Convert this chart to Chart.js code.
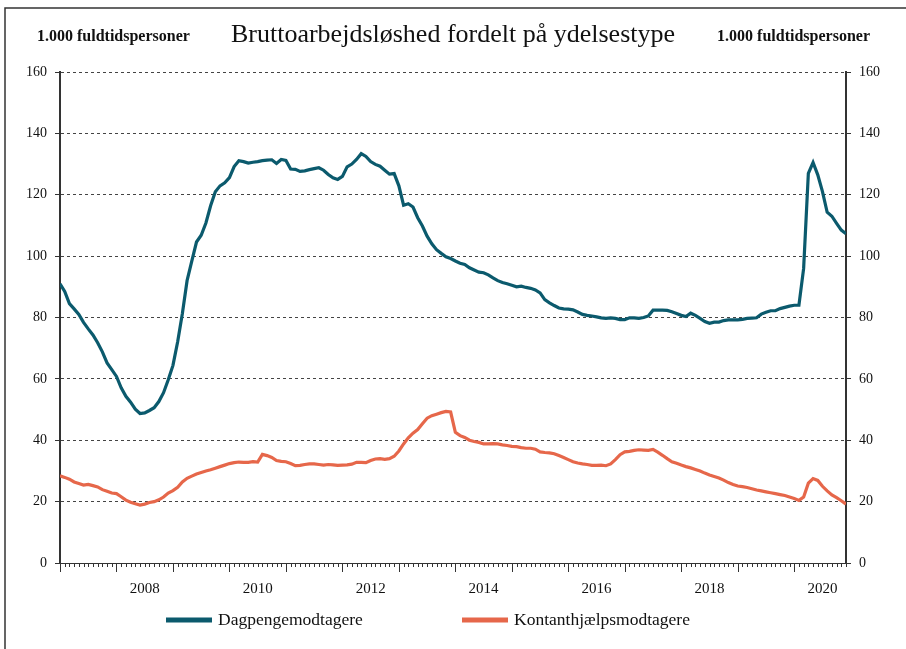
<!DOCTYPE html>
<html>
<head>
<meta charset="utf-8">
<script src="https://cdn.jsdelivr.net/npm/chart.js@4.4.1/dist/chart.umd.min.js"></script>
<style>
  html, body { margin: 0; padding: 0; background: #fff; }
  canvas { display: block; }
</style>
</head>
<body>
<canvas id="chart" width="906" height="649"></canvas>
<script>
// Bruttoarbejdsløshed fordelt på ydelsestype, månedlige tal 2007-2020

const startYear = 2007;
const months = Array.from({ length: 168 }, (_, i) =>
  `${startYear + Math.floor(i / 12)}-${String(i % 12 + 1).padStart(2, '0')}`);

const yearLabels = ['2008', '2010', '2012', '2014', '2016', '2018', '2020'];
const yTicks = [0, 20, 40, 60, 80, 100, 120, 140, 160];

const seriesNames = ['Dagpengemodtagere', 'Kontanthjælpsmodtagere'];
const unitLabel = '1.000 fuldtidspersoner';
const titleText = 'Bruttoarbejdsløshed fordelt på ydelsestype';

// 1.000 fuldtidspersoner, jan 2007 - dec 2020
const dagpenge = [
  91.0, 88.5, 84.5, 82.8, 81.0, 78.4, 76.3, 74.3, 71.8, 68.8, 65.2, 63.0,
  60.8, 57.1, 54.3, 52.4, 50.1, 48.7, 48.9, 49.7, 50.6, 52.6, 55.5, 59.7,
  64.4, 72.1, 81.3, 92.0, 98.4, 104.6, 106.8, 110.8, 116.4, 121.0, 122.9, 123.9,
  125.6, 129.2, 131.1, 130.8, 130.3, 130.6, 130.8, 131.1, 131.3, 131.4, 130.2, 131.5,
  131.2, 128.4, 128.3, 127.6, 127.8, 128.2, 128.5, 128.8, 128.0, 126.6, 125.5, 125.0,
  126.0, 129.1, 130.0, 131.5, 133.4, 132.5, 130.8, 129.9, 129.3, 128.0, 126.7, 126.9,
  122.9, 116.6, 117.1, 116.0, 112.5, 109.8, 106.5, 104.0, 102.1, 100.9, 99.8, 99.2,
  98.4, 97.7, 97.3, 96.2, 95.5, 94.8, 94.6, 93.9, 92.9, 92.0, 91.4, 91.0,
  90.5, 90.0, 90.2, 89.8, 89.5, 89.0, 88.0, 85.8, 84.8, 83.9, 83.1, 82.8,
  82.7, 82.5, 81.8, 81.0, 80.7, 80.5, 80.2, 79.9, 79.7, 79.9, 79.7, 79.3,
  79.3, 79.9, 79.9, 79.7, 80.0, 80.5, 82.4, 82.4, 82.4, 82.3, 81.9, 81.3,
  80.7, 80.3, 81.4, 80.7, 79.7, 78.7, 78.1, 78.5, 78.5, 79.0, 79.2, 79.2,
  79.2, 79.4, 79.7, 79.8, 79.9, 81.1, 81.7, 82.2, 82.2, 82.9, 83.3, 83.7,
  84.0, 84.0, 96.0, 127.0, 130.5, 126.5, 121.0, 114.3, 113.0, 110.7, 108.5, 107.3
];

const kontanthjaelp = [
  28.4, 27.9, 27.3, 26.4, 25.9, 25.4, 25.6, 25.2, 24.8, 23.9, 23.4, 22.8,
  22.6, 21.6, 20.5, 19.8, 19.3, 18.9, 19.2, 19.7, 20.0, 20.6, 21.5, 22.8,
  23.6, 24.7, 26.4, 27.6, 28.3, 29.0, 29.5, 30.0, 30.4, 30.9, 31.4, 31.9,
  32.4, 32.7, 32.9, 32.8, 32.8, 33.0, 32.9, 35.4, 35.0, 34.4, 33.4, 33.1,
  33.0, 32.4, 31.7, 31.8, 32.1, 32.3, 32.3, 32.1, 31.9, 32.1, 32.0, 31.8,
  31.9, 32.0, 32.2, 32.8, 32.8, 32.7, 33.4, 33.9, 34.0, 33.8, 34.0, 34.8,
  36.5, 38.8, 40.8, 42.3, 43.5, 45.4, 47.2, 48.0, 48.5, 49.0, 49.4, 49.2,
  42.6, 41.5, 40.9, 40.0, 39.6, 39.3, 38.8, 38.8, 38.9, 38.8, 38.5, 38.3,
  38.0, 37.9, 37.6, 37.4, 37.4, 37.1, 36.2, 36.0, 35.9, 35.6, 35.0, 34.4,
  33.7, 33.0, 32.6, 32.3, 32.1, 31.8, 31.8, 31.9, 31.7, 32.3, 33.7, 35.3,
  36.2, 36.4, 36.7, 36.9, 36.8, 36.7, 37.0, 36.1, 35.1, 34.0, 33.0, 32.5,
  31.9, 31.4, 31.0, 30.5, 30.0, 29.3, 28.7, 28.2, 27.7, 27.0, 26.2, 25.6,
  25.1, 24.9, 24.6, 24.2, 23.8, 23.5, 23.2, 22.9, 22.6, 22.3, 22.0, 21.5,
  21.0, 20.4, 21.5, 26.0, 27.5, 26.9, 25.0, 23.5, 22.2, 21.3, 20.3, 19.2
];

const colors = ['#0b5a6d', '#e6674a'];
const serif = '"Liberation Serif", "DejaVu Serif", serif';

// titel, enhedstekster og ramme
const headerPlugin = {
  id: 'header',
  afterDraw(chart) {
    const { ctx, chartArea } = chart;
    ctx.save();
    ctx.strokeStyle = '#333';
    ctx.lineWidth = 1.5;
    ctx.beginPath();
    ctx.moveTo(5, chart.height);
    ctx.lineTo(5, 8);
    ctx.lineTo(chart.width, 8);
    ctx.stroke();

    ctx.fillStyle = '#111';
    ctx.textBaseline = 'middle';
    ctx.textAlign = 'center';
    ctx.font = `26px ${serif}`;
    ctx.fillText(titleText, (chartArea.left + chartArea.right) / 2, 35);

    ctx.font = `bold 16px ${serif}`;
    ctx.textAlign = 'left';
    ctx.fillText(unitLabel, 37, 37);
    ctx.textAlign = 'right';
    ctx.fillText(unitLabel, 870, 37);
    ctx.restore();
  }
};

// måneds- og årsstreger på x-aksen
const monthTicksPlugin = {
  id: 'monthTicks',
  afterDraw(chart) {
    const { ctx, chartArea, scales } = chart;
    ctx.save();
    ctx.strokeStyle = '#333';
    ctx.lineWidth = 1;
    ctx.beginPath();
    months.forEach((m, i) => {
      const x = Math.round(scales.x.getPixelForValue(i)) + 0.5;
      const len = i % 12 === 0 ? 9 : 4;
      ctx.moveTo(x, chartArea.bottom);
      ctx.lineTo(x, chartArea.bottom + len);
    });
    ctx.stroke();
    ctx.restore();
  }
};

// forklaring under grafen
const legendPlugin = {
  id: 'customLegend',
  afterDraw(chart) {
    const { ctx } = chart;
    const xs = [166, 462];
    const y = 620;
    ctx.save();
    ctx.font = `17.5px ${serif}`;
    ctx.textBaseline = 'middle';
    ctx.textAlign = 'left';
    chart.data.datasets.forEach((ds, k) => {
      ctx.strokeStyle = ds.borderColor;
      ctx.lineWidth = 5;
      ctx.beginPath();
      ctx.moveTo(xs[k], y);
      ctx.lineTo(xs[k] + 46, y);
      ctx.stroke();
      ctx.fillStyle = '#111';
      ctx.fillText(ds.label, xs[k] + 52, y);
    });
    ctx.restore();
  }
};

const toPoints = arr => arr.map((v, i) => ({ x: i, y: v }));

new Chart(document.getElementById('chart'), {
  type: 'line',
  data: {
    datasets: [
      { label: seriesNames[0], data: toPoints(dagpenge), borderColor: colors[0], borderWidth: 3.2, pointRadius: 0, tension: 0 },
      { label: seriesNames[1], data: toPoints(kontanthjaelp), borderColor: colors[1], borderWidth: 3.2, pointRadius: 0, tension: 0 }
    ]
  },
  options: {
    responsive: false,
    animation: false,
    layout: { padding: { top: 72, bottom: 46, left: 0, right: 0 } },
    plugins: {
      legend: { display: false },
      tooltip: { enabled: false }
    },
    scales: {
      x: {
        type: 'linear',
        min: 0,
        max: months.length - 1,
        afterBuildTicks: scale => {
          scale.ticks = yearLabels.map(y => ({ value: (Number(y) - startYear) * 12 + 6 }));
        },
        afterFit: scale => { scale.height = 40; },
        ticks: {
          color: '#111',
          font: { family: serif, size: 15 },
          padding: 17,
          maxRotation: 0,
          autoSkip: false,
          callback: v => String(startYear + Math.floor(v / 12))
        },
        grid: { drawOnChartArea: false, drawTicks: false },
        border: { color: '#333', width: 1 }
      },
      y: {
        position: 'left',
        min: 0,
        max: 160,
        afterBuildTicks: scale => { scale.ticks = yTicks.map(v => ({ value: v })); },
        afterFit: scale => { scale.width = 60; },
        ticks: { color: '#111', font: { family: serif, size: 14 }, padding: 8 },
        grid: { color: '#444', lineWidth: 1, tickLength: 5, tickColor: '#333' },
        border: { color: '#333', width: 2, dash: [3, 3] }
      },
      y2: {
        position: 'right',
        min: 0,
        max: 160,
        afterBuildTicks: scale => { scale.ticks = yTicks.map(v => ({ value: v })); },
        afterFit: scale => { scale.width = 60; },
        ticks: { color: '#111', font: { family: serif, size: 14 }, padding: 8 },
        grid: { drawOnChartArea: false, tickLength: 5, tickColor: '#333' },
        border: { color: '#333', width: 2 }
      }
    }
  },
  plugins: [headerPlugin, monthTicksPlugin, legendPlugin]
});
</script>
</body>
</html>
